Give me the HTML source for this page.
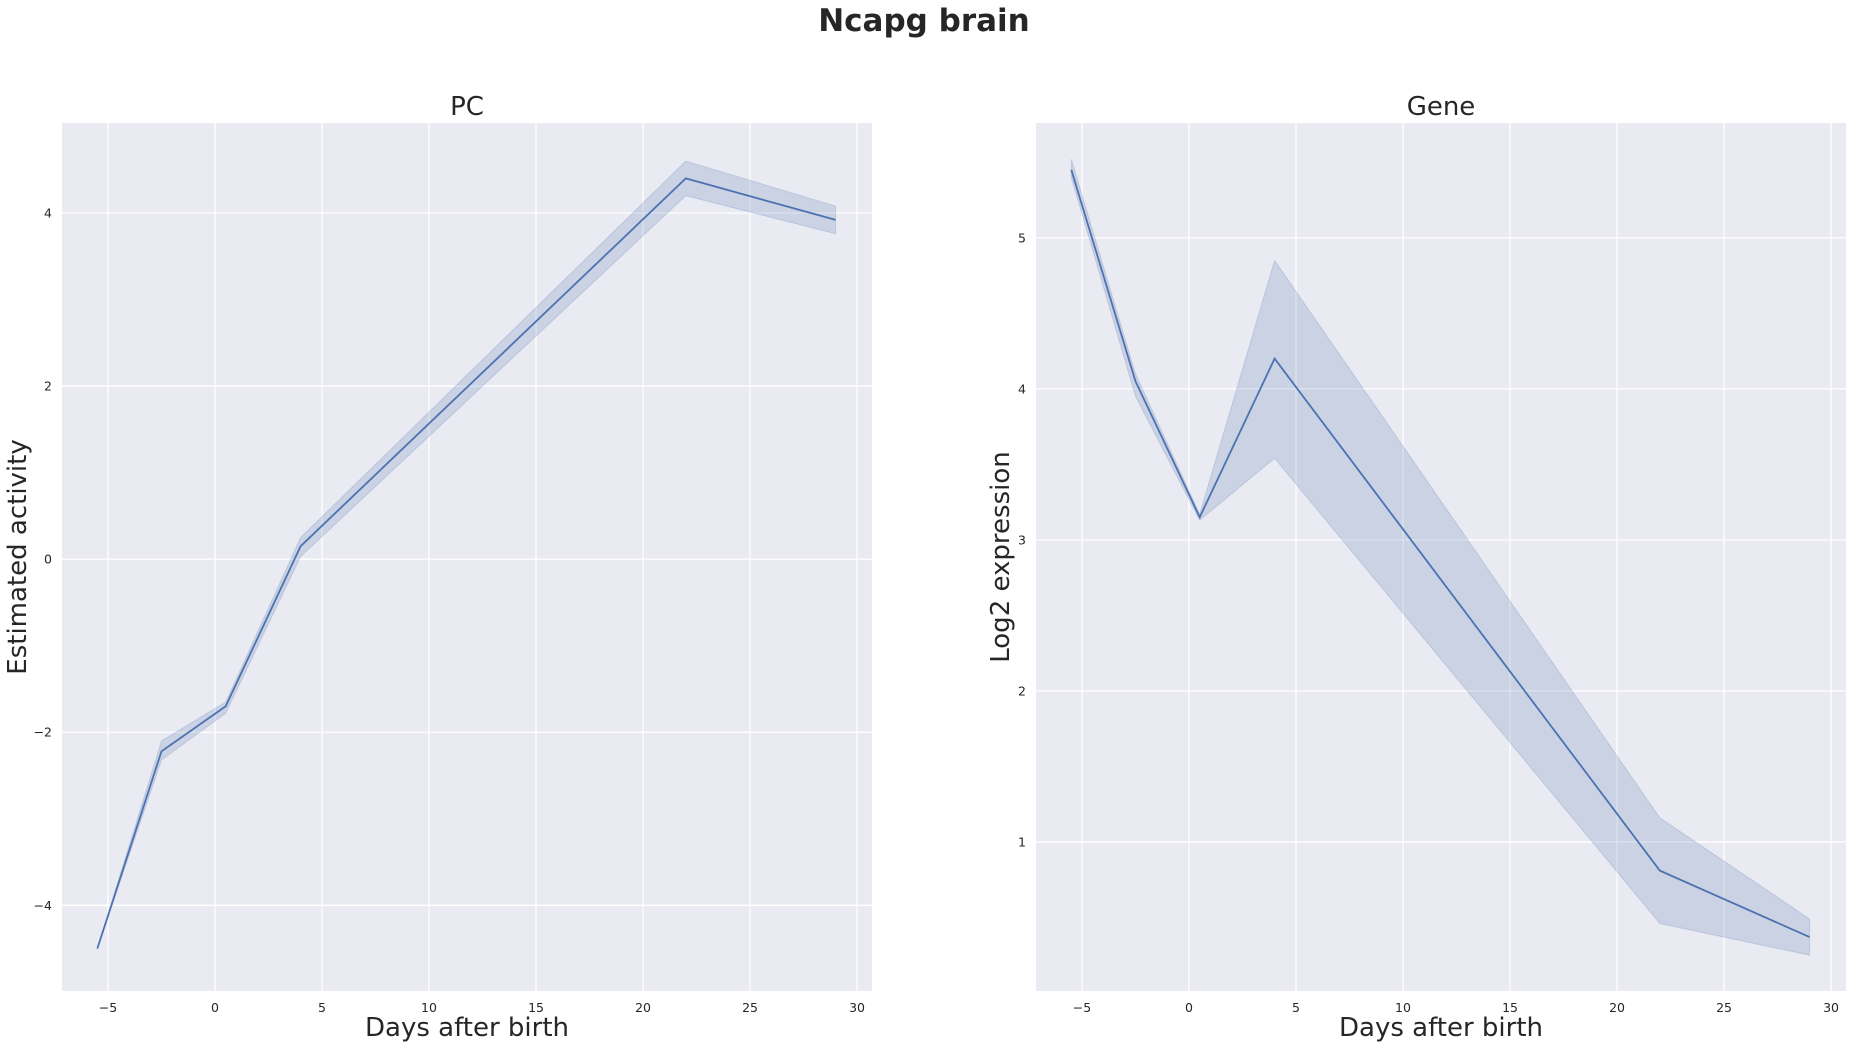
<!DOCTYPE html>
<html><head><meta charset="utf-8"><style>
html,body{margin:0;padding:0;background:#fff;}
svg{display:block;font-family:"DejaVu Sans","Liberation Sans",sans-serif;}
</style></head><body>
<svg id="chart" width="1853" height="1046" xmlns="http://www.w3.org/2000/svg">
<text x="924" y="31" text-anchor="middle" font-size="31" font-weight="bold" fill="#262626">Ncapg brain</text>
</svg>
<script>
const days = [-5.5, -2.5, 0.5, 4, 22, 29];
const pcMean = [-4.5, -2.22, -1.7, 0.15, 4.4, 3.92];
const pcLow = [-4.5, -2.32, -1.78, 0.03, 4.2, 3.76];
const pcHigh = [-4.5, -2.1, -1.65, 0.25, 4.6, 4.08];
const geneMean = [5.45, 4.05, 3.15, 4.2, 0.81, 0.37];
const geneLow = [5.4, 3.95, 3.13, 3.54, 0.46, 0.25];
const geneHigh = [5.52, 4.1, 3.17, 4.85, 1.16, 0.49];
const xTicks = [-5, 0, 5, 10, 15, 20, 25, 30];
const pcYTicks = [-4, -2, 0, 2, 4];
const geneYTicks = [1, 2, 3, 4, 5];

const svg = document.getElementById('chart');
const NS = 'http://www.w3.org/2000/svg';
function mk(tag, attrs, parent) {
  const e = document.createElementNS(NS, tag);
  for (const k in attrs) e.setAttribute(k, attrs[k]);
  (parent || svg).appendChild(e);
  return e;
}
function panel(cfg) {
  const {left, right, top, bottom, xmin, xmax, ymin, ymax, title, ylabel, mean, low, high, yTicks, key} = cfg;
  const g = mk('g', {});
  
  
  const sx = v => left + (v - xmin) / (xmax - xmin) * (right - left);
  const sy = v => bottom - (v - ymin) / (ymax - ymin) * (bottom - top);
  const bg = mk('rect', {x: left, y: top, width: right - left, height: bottom - top, fill: '#eaeaf2'}, g);
  
  
  xTicks.forEach(t => {
    const x = sx(t);
    const l = mk('line', {x1: x, x2: x, y1: top, y2: bottom, stroke: '#fff', 'stroke-width': 1.3}, g);
    
    
    const tx = mk('text', {x: x, y: bottom + 21, 'text-anchor': 'middle', 'font-size': 12.5, fill: '#262626'}, g);
    tx.textContent = t < 0 ? '\u2212' + (-t) : String(t);
    
    
  });
  yTicks.forEach(t => {
    const y = sy(t);
    const l = mk('line', {x1: left, x2: right, y1: y, y2: y, stroke: '#fff', 'stroke-width': 1.3}, g);
    
    
    const tx = mk('text', {x: left - 10, y: y + 4.5, 'text-anchor': 'end', 'font-size': 12.5, fill: '#262626'}, g);
    tx.textContent = t < 0 ? '\u2212' + (-t) : String(t);
    
    
  });
  let d = '';
  days.forEach((v, i) => { d += (i ? 'L' : 'M') + sx(v) + ',' + sy(high[i]); });
  for (let i = days.length - 1; i >= 0; i--) d += 'L' + sx(days[i]) + ',' + sy(low[i]);
  const band = mk('path', {d: d + 'Z', fill: '#4c72b0', 'fill-opacity': 0.2, stroke: '#4c72b0', 'stroke-opacity': 0.2}, g);
  
  
  const pts = days.map((v, i) => sx(v) + ',' + sy(mean[i])).join(' ');
  const line = mk('polyline', {points: pts, fill: 'none', stroke: '#4c72b0', 'stroke-width': 1.8}, g);
  
  
  const tt = mk('text', {x: (left + right) / 2, y: 115, 'text-anchor': 'middle', 'font-size': 26, fill: '#262626'}, g);
  tt.textContent = title;
  
  
  const xl = mk('text', {x: (left + right) / 2, y: 1036, 'text-anchor': 'middle', 'font-size': 26, fill: '#262626'}, g);
  xl.textContent = 'Days after birth';
  
  
  const cy = (top + bottom) / 2;
  const yl = mk('text', {x: cfg.ylx, y: cy, 'text-anchor': 'middle', 'font-size': 26, fill: '#262626', transform: 'rotate(-90 ' + cfg.ylx + ' ' + cy + ')'}, g);
  yl.textContent = ylabel;
  
  
}
panel({key: 'pc', left: 62, right: 872, top: 123, bottom: 991, xmin: -7.15, xmax: 30.7, ymin: -4.99, ymax: 5.04,
  title: 'PC', ylabel: 'Estimated activity', mean: pcMean, low: pcLow, high: pcHigh, yTicks: pcYTicks, ylx: 26});
panel({key: 'gene', left: 1036, right: 1846, top: 123, bottom: 991, xmin: -7.15, xmax: 30.7, ymin: 0.013, ymax: 5.76,
  title: 'Gene', ylabel: 'Log2 expression', mean: geneMean, low: geneLow, high: geneHigh, yTicks: geneYTicks, ylx: 1009});
</script>
</body></html>
